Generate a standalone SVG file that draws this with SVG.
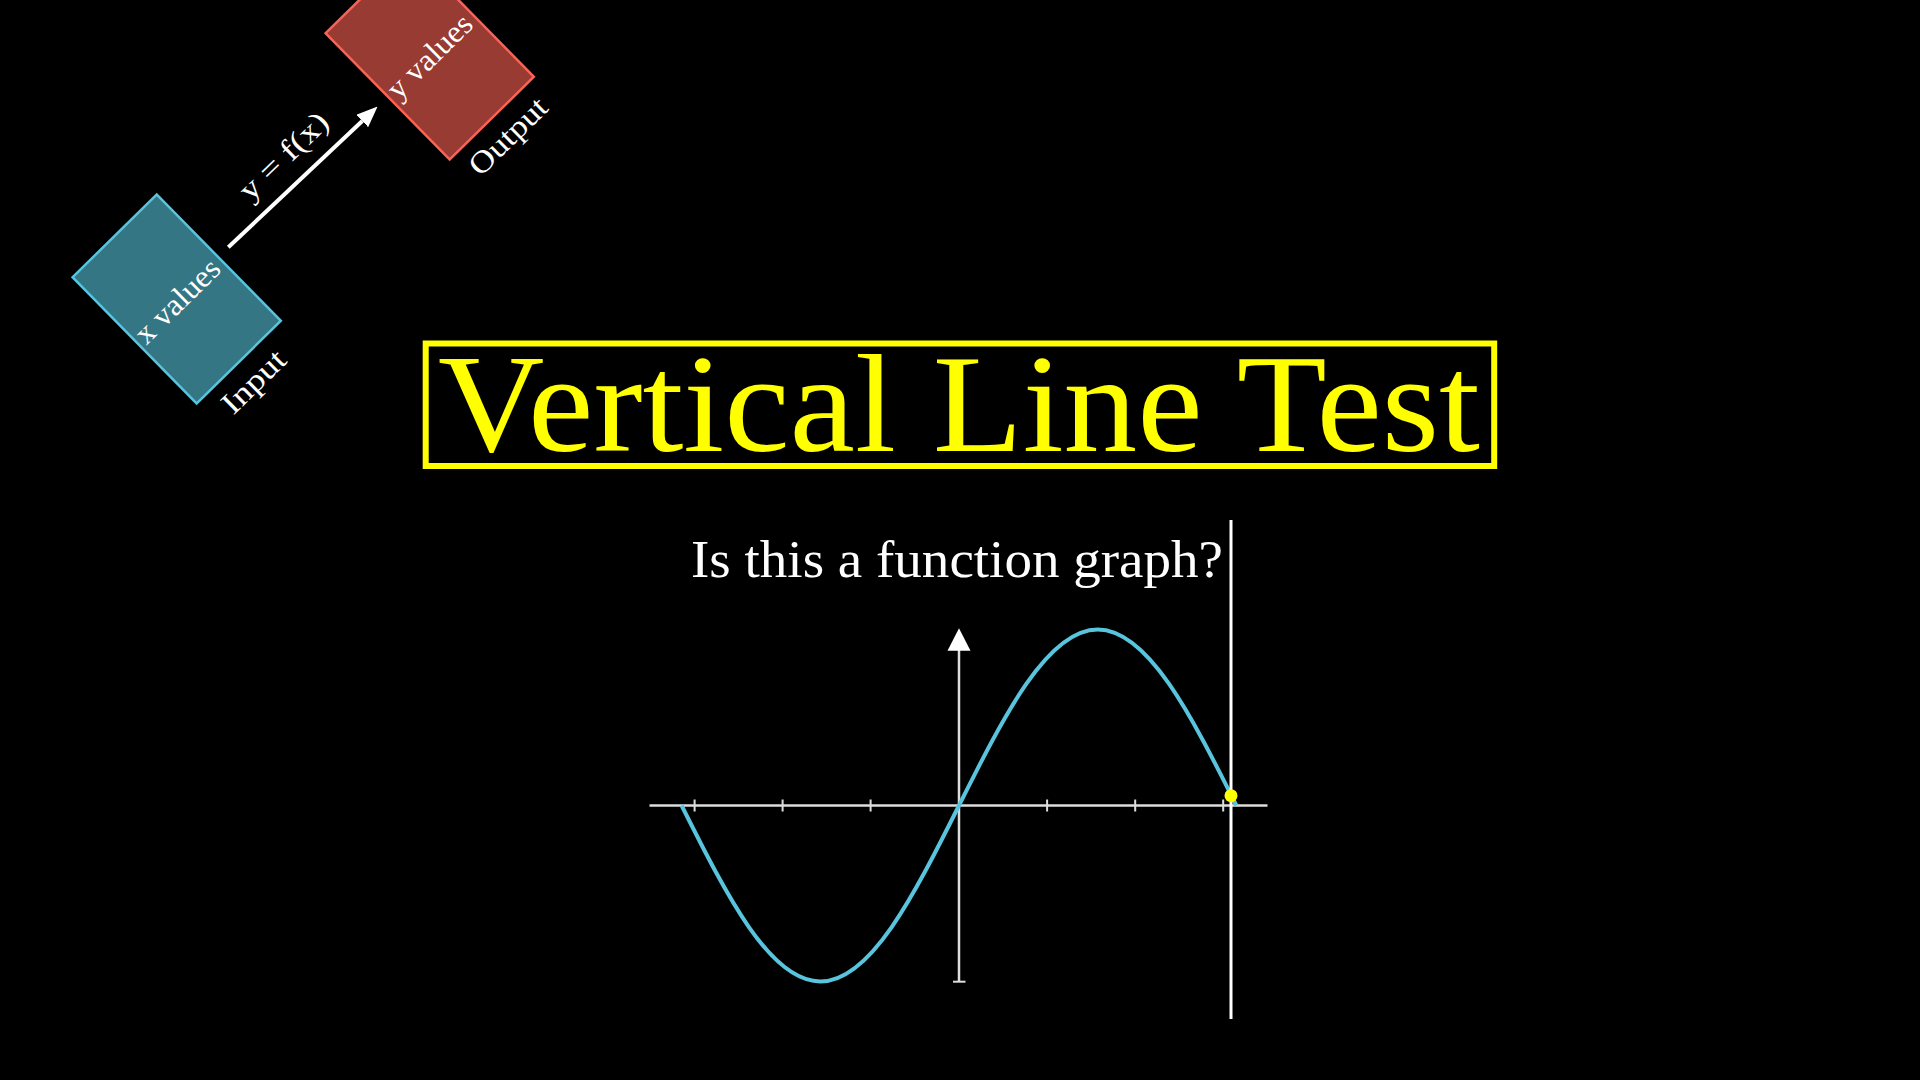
<svg xmlns="http://www.w3.org/2000/svg" width="1920" height="1080" viewBox="0 0 1920 1080">
<defs>
<style>
.lbl{font-family:"Liberation Serif","DejaVu Serif",serif;fill:#FFFFFF;font-size:31px;text-anchor:middle}
.box-in{fill:#58C4DD;fill-opacity:0.6;stroke:#58C4DD;stroke-width:2.5}
.box-out{fill:#FC6255;fill-opacity:0.6;stroke:#FC6255;stroke-width:2.5}
.axis{stroke:#DDDDDD;stroke-width:2.5;fill:none}
.tick{stroke:#DDDDDD;stroke-width:2}
</style>
<marker id="head" markerUnits="userSpaceOnUse" viewBox="0 0 21 17" refX="0" refY="8.5" markerWidth="21" markerHeight="17" orient="auto">
<path d="M0,0 L21,8.5 L0,17 z" fill="#FFFFFF"/>
</marker>
</defs>
<rect x="0" y="0" width="1920" height="1080" fill="#000000"/>

<g id="input-node" transform="translate(176.7,299) rotate(-44.5)">
<rect class="box-in" x="-59" y="-88.5" width="118" height="177"/>
<text class="lbl" x="-1" y="12" textLength="107" lengthAdjust="spacingAndGlyphs">x values</text>
<text class="lbl" x="-3" y="123" textLength="77" lengthAdjust="spacingAndGlyphs">Input</text>
</g>

<g id="output-node" transform="translate(429.7,55) rotate(-44.5)">
<rect class="box-out" x="-59" y="-88.5" width="118" height="177"/>
<text class="lbl" x="-1" y="11" textLength="107" lengthAdjust="spacingAndGlyphs">y values</text>
<text class="lbl" x="-1" y="123" textLength="97" lengthAdjust="spacingAndGlyphs">Output</text>
</g>

<g id="connectors">
<line x1="228.3" y1="247.3" x2="362.3" y2="121" stroke="#FFFFFF" stroke-width="4" marker-end="url(#head)"/>
<g transform="translate(285,157.5) rotate(-44)">
<text class="lbl" x="0" y="8" textLength="112" lengthAdjust="spacingAndGlyphs">y = f(x)</text>
</g>
</g>

<g id="title">
<rect x="425.7" y="343.5" width="1068.5" height="122.5" fill="none" stroke="#FFFF00" stroke-width="6"/>
<text x="438" y="451" font-family="'Liberation Serif','DejaVu Serif',serif" font-size="139" fill="#FFFF00" textLength="1042" lengthAdjust="spacingAndGlyphs">Vertical Line Test</text>
</g>

<g id="question">
<text x="691" y="577" font-family="'Liberation Serif','DejaVu Serif',serif" font-size="52" fill="#FFFFFF" textLength="532" lengthAdjust="spacingAndGlyphs">Is this a function graph?</text>
</g>

<g id="graph">
<line class="axis" x1="649.5" y1="805.5" x2="1267.5" y2="805.5"/>
<line class="tick" x1="694.6" y1="799.5" x2="694.6" y2="811.5"/>
<line class="tick" x1="782.6" y1="799.5" x2="782.6" y2="811.5"/>
<line class="tick" x1="870.6" y1="799.5" x2="870.6" y2="811.5"/>
<line class="tick" x1="1047.1" y1="799.5" x2="1047.1" y2="811.5"/>
<line class="tick" x1="1135.2" y1="799.5" x2="1135.2" y2="811.5"/>
<line class="tick" x1="1223.2" y1="799.5" x2="1223.2" y2="811.5"/>
<line class="axis" x1="959" y1="981.7" x2="959" y2="650"/>
<line class="tick" x1="953" y1="981.7" x2="965.5" y2="981.7"/>
<polygon points="959,628.3 970.5,650.7 947.5,650.7" fill="#FFFFFF"/>
<path d="M681.6,805.5 C726.8,895.7 770.1,981.5 820.3,981.5 C870.5,981.5 913.8,895.7 959,805.5 C1004.2,715.3 1047.5,629.5 1097.7,629.5 C1147.9,629.5 1191.2,715.3 1236.4,805.5" fill="none" stroke="#58C4DD" stroke-width="4"/>
</g>

<g id="test-line">
<line x1="1231" y1="520" x2="1231" y2="1019" stroke="#FFFFFF" stroke-width="3"/>
<circle cx="1231" cy="795.7" r="6.5" fill="#FFFF00"/>
</g>
</svg>
